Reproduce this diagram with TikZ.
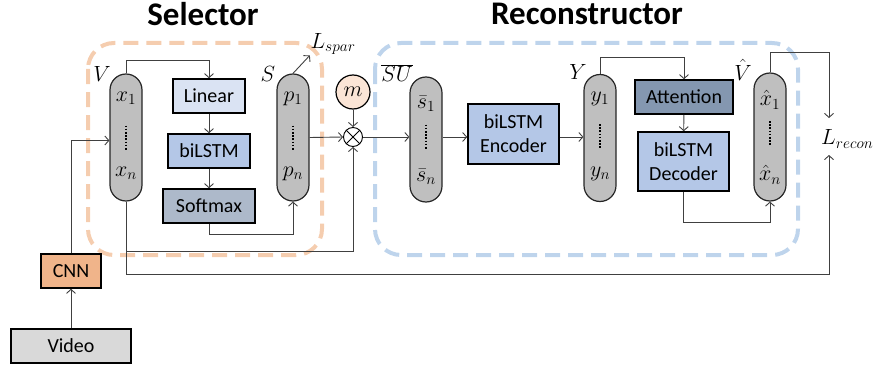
\RequirePackage{fix-cm}
\documentclass[tikz,border=0pt]{standalone}
\usepackage{fontspec}
\setmainfont{Carlito}
\usetikzlibrary{arrows.meta,calc}
\definecolor{linfill}{HTML}{DAE3F3}
\definecolor{lstmfill}{HTML}{B4C7E7}
\definecolor{softfill}{HTML}{ADB9CA}
\definecolor{attfill}{HTML}{8497B0}
\definecolor{cnnfill}{RGB}{240,180,138}
\definecolor{vidfill}{HTML}{D9D9D9}
\definecolor{mfill}{HTML}{FBE5D6}
\definecolor{selcol}{RGB}{245,205,175}
\definecolor{reccol}{RGB}{190,212,236}
\begin{document}
\begin{tikzpicture}[x=1pt, y=-1pt,
    every node/.style={font=\fontsize{20}{24}\selectfont},
    mth/.style={font=\fontsize{22}{26}\selectfont, inner sep=0.5pt},
    pill/.style={draw=black!85, line width=1.2pt, fill=gray!50, rounded corners=16pt, minimum width=32pt, minimum height=127pt, inner sep=0pt},
    blk/.style={draw, line width=1.6pt, minimum height=34pt, inner sep=0pt, align=center},
    link/.style={draw=black!75, line width=0.9pt, -{Straight Barb[length=4pt,width=9pt]}},
    grp/.style={line width=4pt, rounded corners=26pt, dash pattern=on 15pt off 8pt},
    title/.style={font=\fontsize{33}{36}\selectfont\bfseries}]
    \useasboundingbox (0,0) rectangle (878,369);

    % groups
    \draw[grp, draw=selcol] (88,43) rectangle (322,255);
    \draw[grp, draw=reccol] (375,43) rectangle (798,255);
    \node[title] (tsel) at (203,14) {Selector};
    \node[title] (trec) at (587,14) {Reconstructor};

    % selector
    \node[pill] (V) at (126,137.5) {};
    \node[mth] (x1) at ($(V)+(0,-39)$) {$x_1$};
    \node[mth] (xn) at ($(V)+(0,36)$) {$x_n$};
    \draw[line width=2pt, dash pattern=on 1.6pt off 1.6pt] ($(V)+(0,-12)$) -- ($(V)+(0,13)$);
    \node[mth] (lV) at (102,74) {$V$};

    \node[blk, fill=linfill, minimum width=72pt] (lin) at (209,96) {Linear};
    \node[blk, fill=lstmfill, minimum width=82pt] (bi) at (209,151) {biLSTM};
    \node[blk, fill=softfill, minimum width=92pt] (soft) at (209,206) {Softmax};

    \node[pill] (S) at (293,137.5) {};
    \node[mth] (p1) at ($(S)+(0,-39)$) {$p_1$};
    \node[mth] (pn) at ($(S)+(0,36)$) {$p_n$};
    \draw[line width=2pt, dash pattern=on 1.6pt off 1.6pt] ($(S)+(0,-12)$) -- ($(S)+(0,13)$);
    \node[mth] (lS) at (268,74) {$S$};
    \node[mth] (Lsp) at (333,44) {$L_{spar}$};

    \node[circle, draw, line width=1.2pt, fill=mfill, minimum size=34pt, inner sep=0pt, font=\fontsize{22}{26}\selectfont] (m) at (353,92) {$m$};
    \node[circle, draw, line width=0.9pt, fill=white, minimum size=19pt, inner sep=0pt] (ot) at (353,137) {};
    \draw[line width=0.9pt] (ot.north west) -- (ot.south east) (ot.north east) -- (ot.south west);

    \node[blk, fill=cnnfill, minimum width=60pt] (cnn) at (71,271) {CNN};
    \node[blk, fill=vidfill, minimum width=120pt] (vid) at (71,346) {Video};

    % reconstructor
    \node[pill, minimum height=125pt] (SU) at (426,139.5) {};
    \node[mth] (s1) at ($(SU)+(0,-36)$) {$\bar{s}_1$};
    \node[mth] (sn) at ($(SU)+(0,37)$) {$\bar{s}_n$};
    \draw[line width=2pt, dash pattern=on 1.6pt off 1.6pt] ($(SU)+(0,-15)$) -- ($(SU)+(0,10)$);
    \node[mth] (lSU) at (397,73) {$\overline{SU}$};

    \node[blk, fill=lstmfill, minimum width=91pt, minimum height=60pt] (enc) at (513.5,134) {biLSTM\\Encoder};

    \node[pill] (Y) at (600,138) {};
    \node[mth] (y1) at ($(Y)+(0,-39)$) {$y_1$};
    \node[mth] (yn) at ($(Y)+(0,36)$) {$y_n$};
    \draw[line width=2pt, dash pattern=on 1.6pt off 1.6pt] ($(Y)+(0,-14)$) -- ($(Y)+(0,11)$);
    \node[mth] (lY) at (578,72) {$Y$};

    \node[blk, fill=attfill, minimum width=98pt] (att) at (684,97) {Attention};
    \node[blk, fill=lstmfill, minimum width=91pt, minimum height=59pt] (dec) at (683.5,161.5) {biLSTM\\Decoder};

    \node[pill, minimum height=128pt] (Vh) at (770,137) {};
    \node[mth] (xh1) at ($(Vh)+(0,-37)$) {$\hat{x}_1$};
    \node[mth] (xhn) at ($(Vh)+(0,38)$) {$\hat{x}_n$};
    \draw[line width=2pt, dash pattern=on 1.6pt off 1.6pt] ($(Vh)+(0,-16)$) -- ($(Vh)+(0,9)$);
    \node[mth] (lVh) at (743,70) {$\hat{V}$};

    \node[mth, anchor=west, inner sep=0pt] (Lrec) at (821,139) {$L_{recon}$};
    \coordinate (lrtop) at (829,118);
    \coordinate (lrbot) at (829,155);

    % connectors
    \draw[link] (V.north) -- ($(V.north)+(0,-13)$) -| (lin.north);
    \draw[link] (lin) -- (bi);
    \draw[link] (bi) -- (soft);
    \draw[link] (soft.south) -- ($(soft.south)+(0,11)$) -| (S.south);
    \draw[link] (S.north) -- (Lsp.south west);
    \draw[link] (S.east) -- (ot.west);
    \draw[link] (m) -- (ot);
    \draw[link] (V.south) -- ($(V.south)+(0,50)$) -| (ot.south);
    \draw[link] (V.south) -- ($(V.south)+(0,73)$) -| (lrbot);
    \draw[link] (vid) -- (cnn);
    \draw[link] (cnn.north) |- ($(V.west)+(0,3)$);
    \draw[link] (ot.east) -- (ot.east -| SU.west);
    \draw[link] (SU.east |- ot.east) -- (enc.west |- ot.east);
    \draw[link] (enc.east |- ot.east) -- (Y.west |- ot.east);
    \draw[link] (Y.north) -- ($(Y.north)+(0,-16)$) -| (att.north);
    \draw[link] (att) -- (dec);
    \draw[link] (dec.south) -- ($(dec.south)+(0,31)$) -| (Vh.south);
    \draw[link] (Vh.north) -- ($(Vh.north)+(0,-20)$) -| (lrtop);
\end{tikzpicture}
\end{document}
